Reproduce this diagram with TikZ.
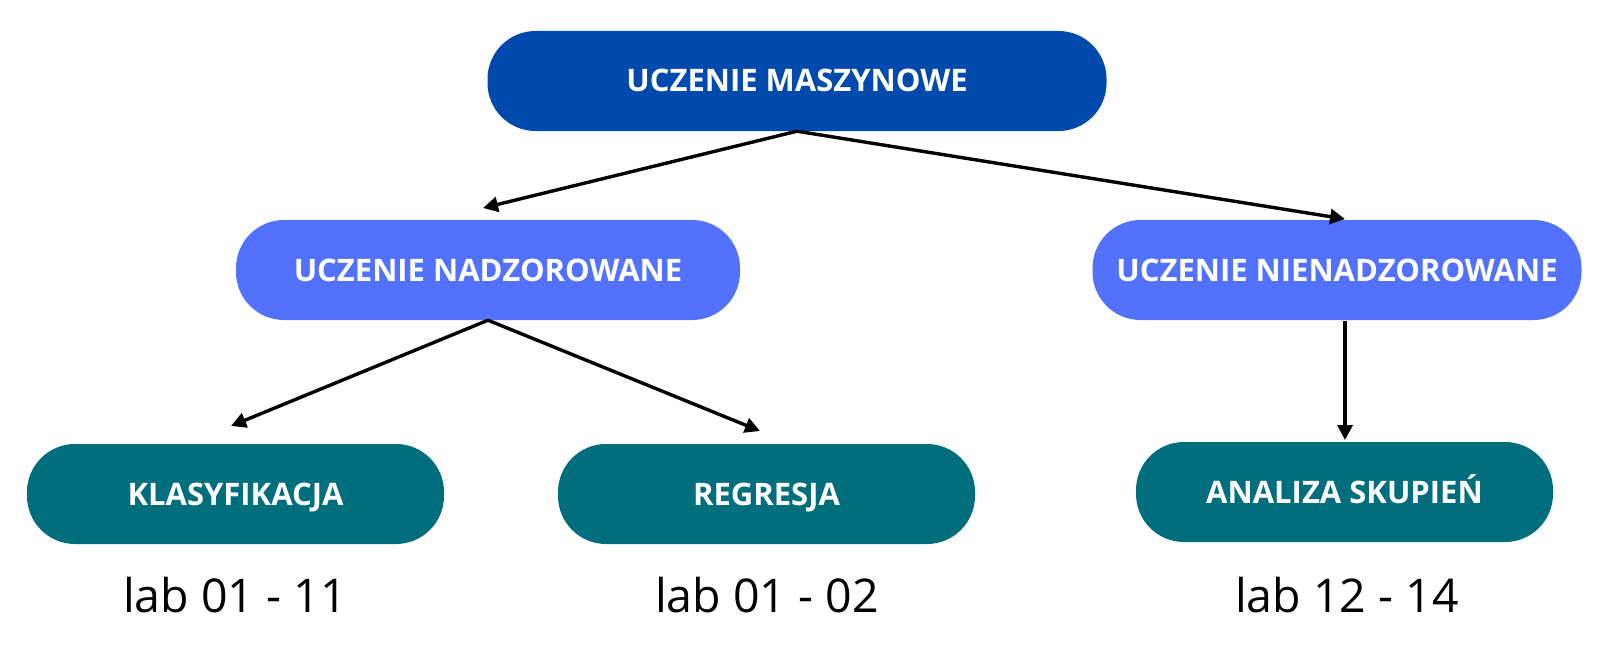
\documentclass[tikz,border=0pt]{standalone}
\usepackage{fontspec}
\setmainfont{Open Sans}
\usetikzlibrary{arrows.meta}
\definecolor{cTop}{HTML}{004AAD}
\definecolor{cMid}{HTML}{5271FF}
\definecolor{cLow}{HTML}{016E7D}
\begin{document}
\begin{tikzpicture}[x=1bp,y=-1bp,
  box/.style={rounded corners=48bp, minimum height=100bp, inner sep=0pt,
    text=white, font=\fontsize{31bp}{37bp}\selectfont\bfseries,
    text height=22bp, text depth=0pt},
  lab/.style={inner sep=0pt, font=\fontsize{46.5bp}{56bp}\selectfont,
    text height=34bp, text depth=0pt},
  arr/.style={line width=3.4bp, -{Triangle[length=15bp,width=15bp]}}]
\useasboundingbox (0,0) rectangle (1618,658);
\node[box, fill=cTop, minimum width=619bp] (top) at (797,81) {UCZENIE MASZYNOWE};
\node[box, fill=cMid, minimum width=504bp] (nad) at (488,270) {UCZENIE NADZOROWANE};
\node[box, fill=cMid, minimum width=489bp] (nien) at (1337,270) {UCZENIE NIENADZOROWANE};
\node[box, fill=cLow, minimum width=417bp] (klas) at (235.5,494) {KLASYFIKACJA};
\node[box, fill=cLow, minimum width=417bp] (reg) at (766.5,494) {REGRESJA};
\node[box, fill=cLow, minimum width=417bp] (anal) at (1344.5,492) {ANALIZA SKUPIEŃ};
\node[lab] (l1) at (235,595) {lab 01 - 11};
\node[lab] (l2) at (767,595) {lab 01 - 02};
\node[lab] (l3) at (1347,595) {lab 12 - 14};
\coordinate (s5) at (1345,321);
\coordinate (t1) at (483,208);
\coordinate (t2) at (1345,219);
\coordinate (t3) at (231,426);
\coordinate (t4) at (760,431);
\coordinate (t5) at (1345,440);
\draw[arr] (top.south) -- (t1);
\draw[arr] (top.south) -- (t2);
\draw[arr] (nad.south) -- (t3);
\draw[arr] (nad.south) -- (t4);
\draw[arr] (s5) -- (t5);
\end{tikzpicture}
\end{document}
